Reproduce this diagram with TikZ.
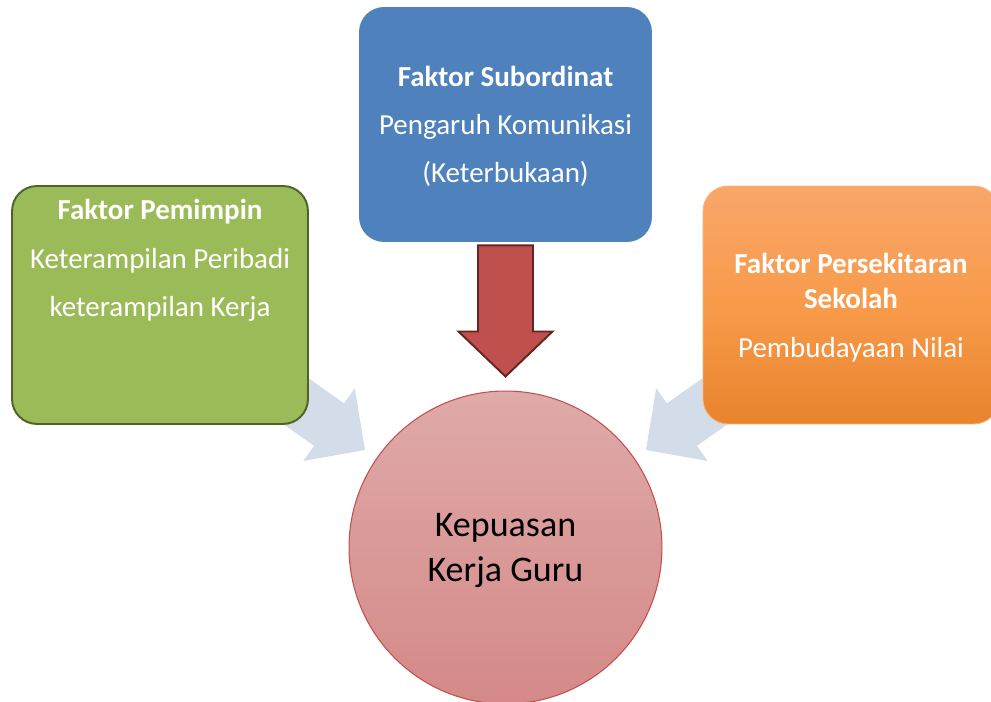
\documentclass[tikz,border=0pt]{standalone}
\usepackage{fontspec}
\setmainfont{Carlito}
\usetikzlibrary{calc,backgrounds}

\definecolor{leafgreen}{HTML}{9BBB59}
\definecolor{darkleaf}{HTML}{4F6228}
\definecolor{steelblue}{HTML}{4F81BD}
\definecolor{brickred}{HTML}{C0504D}
\definecolor{darkbrick}{HTML}{632523}
\definecolor{paleblue}{HTML}{D3DCE9}
\definecolor{rosetop}{HTML}{DFAAA9}
\definecolor{rosebottom}{HTML}{D48987}
\definecolor{orangetop}{HTML}{F9A66A}
\definecolor{orangemid}{HTML}{F89B4A}
\definecolor{orangebottom}{HTML}{E8832E}
\definecolor{orangeedge}{HTML}{F9B27A}

% block arrow: style, from, to, shaft half width, head half width, head length
\newcommand{\blockarrow}[6]{%
  \coordinate (headbase) at ($(#3)!#6!(#2)$);
  \path[#1] ($(#2)!#4!90:(#3)$) -- ($(headbase)!#4!-90:(#2)$)
    -- ($(headbase)!#5!-90:(#2)$) -- (#3) -- ($(headbase)!#5!90:(#2)$)
    -- ($(headbase)!#4!90:(#2)$) -- ($(#2)!#4!-90:(#3)$) -- cycle;
}

\begin{document}
\begin{tikzpicture}[x=0.02cm, y=-0.02cm,
    box/.style={rounded corners=0.5cm, minimum width=5.92cm, minimum height=4.76cm, inner sep=0pt},
    boxtext/.style={text=white, align=center, font=\fontsize{16.5}{20.2}\selectfont, text depth=0pt},
    softarrow/.style={fill=paleblue}]
    \useasboundingbox (0,0) rectangle (991,702);
    \clip (0,0) rectangle (991,702);

    % Factor boxes
    \node[box, fill=leafgreen, draw=darkleaf, line width=1.1pt] (pemimpin) at (160,305) {};
    \node[boxtext, inner sep=0pt, anchor=north] (pemimpintext) at ($(pemimpin.north)+(0,14)$)
        {\textbf{Faktor Pemimpin}\\[7.3pt] Keterampilan Peribadi\\[7.3pt] keterampilan Kerja};

    \node[box, boxtext, minimum width=5.86cm, minimum height=4.7cm, fill=steelblue] (subordinat) at (505.5,124.5)
        {\textbf{Faktor Subordinat}\\[7.3pt] Pengaruh Komunikasi\\[7.3pt] (Keterbukaan)};

    \node[box, boxtext, top color=orangetop, bottom color=orangebottom, middle color=orangemid,
        draw=orangeedge, line width=0.5pt] (persekitaran) at (851,305)
        {\textbf{Faktor Persekitaran}\\ \textbf{Sekolah}\\[7.3pt] Pembudayaan Nilai};

    % Outcome
    \node[circle, minimum size=6.26cm, top color=rosetop, bottom color=rosebottom, draw=brickred,
        line width=0.6pt, align=center, text depth=0pt, font=\fontsize{20.5}{26}\selectfont] (kepuasan) at (505.5,547.5)
        {Kepuasan\\Kerja Guru};

    % Arrows
    \coordinate (redstart) at ($(subordinat.south)+(0,3)$);
    \coordinate (redtip) at ($(kepuasan.north)+(0,-14)$);
    \blockarrow{fill=brickred, draw=darkbrick, line width=1.1pt}{redstart}{redtip}{0.55cm}{0.94cm}{0.9cm}

    \coordinate (tipL) at (365,450);
    \coordinate (tipR) at (646,450);
    \begin{scope}[on background layer]
        \blockarrow{softarrow}{pemimpin.center}{tipL}{0.52cm}{0.89cm}{0.88cm}
        \blockarrow{softarrow}{persekitaran.center}{tipR}{0.52cm}{0.89cm}{0.88cm}
    \end{scope}
\end{tikzpicture}
\end{document}
